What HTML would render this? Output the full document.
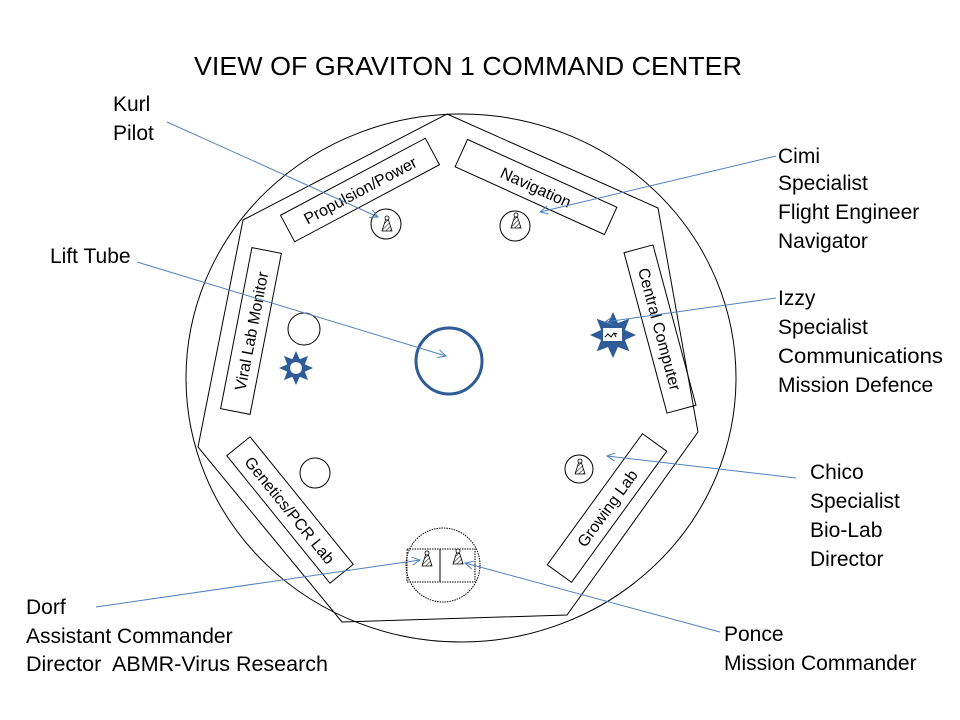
<!DOCTYPE html>
<html><head><meta charset="utf-8"><style>
html,body{margin:0;padding:0;background:#fff;}
svg{display:block;}
text{font-family:"Liberation Sans",sans-serif;fill:#000;}
</style></head><body>
<svg width="960" height="720" viewBox="0 0 960 720" xmlns="http://www.w3.org/2000/svg">
<defs>
<marker id="ar" markerWidth="10" markerHeight="10" refX="9" refY="5" orient="auto" markerUnits="userSpaceOnUse">
<path d="M1,1 L9,5 L1,9" fill="none" stroke="#4f81bd" stroke-width="1"/>
</marker>
<pattern id="h" width="3" height="3" patternUnits="userSpaceOnUse" patternTransform="rotate(45)">
<line x1="0" y1="0" x2="0" y2="3" stroke="#000" stroke-width="1"/>
</pattern>
<polygon id="star" points="1,0 0.52,0.215 0.707,0.707 0.215,0.52 0,1 -0.215,0.52 -0.707,0.707 -0.52,0.215 -1,0 -0.52,-0.215 -0.707,-0.707 -0.215,-0.52 0,-1 0.215,-0.52 0.707,-0.707 0.52,-0.215"/>
<g id="p">
<polygon points="-5,6 5,6 1.5,-5 -1.5,-5" fill="url(#h)" stroke="#000" stroke-width="0.8"/>
<circle cx="0" cy="-7" r="2" fill="#fff" stroke="#000" stroke-width="0.8"/>
</g>
</defs>

<text x="468" y="75" font-size="26" text-anchor="middle" textLength="548" lengthAdjust="spacingAndGlyphs">VIEW OF GRAVITON 1 COMMAND CENTER</text>

<ellipse cx="461" cy="378" rx="275" ry="264" fill="none" stroke="#000" stroke-width="1"/>
<polygon points="447,114 658,208 698,432 567,615 342,622 198,447 243,220" fill="none" stroke="#000" stroke-width="1"/>

<g font-size="16">
<g transform="translate(360,190) rotate(-28)"><rect x="-82" y="-15" width="164" height="30" fill="none" stroke="#000"/><text y="6" text-anchor="middle">Propulsion/Power</text></g>
<g transform="translate(536,187) rotate(24.4)"><rect x="-82" y="-15" width="164" height="30" fill="none" stroke="#000"/><text y="6" text-anchor="middle">Navigation</text></g>
<g transform="translate(660,329) rotate(75)"><rect x="-83" y="-15" width="166" height="30" fill="none" stroke="#000"/><text y="6" text-anchor="middle">Central Computer</text></g>
<g transform="translate(251,331) rotate(-79)"><rect x="-82" y="-15" width="164" height="30" fill="none" stroke="#000"/><text y="6" text-anchor="middle">Viral Lab Monitor</text></g>
<g transform="translate(290,510) rotate(51)"><rect x="-82" y="-15" width="164" height="30" fill="none" stroke="#000"/><text y="6" text-anchor="middle">Genetics/PCR Lab</text></g>
<g transform="translate(607,508) rotate(-54)"><rect x="-81" y="-15" width="162" height="30" fill="none" stroke="#000"/><text y="6" text-anchor="middle">Growing Lab</text></g>
</g>

<circle cx="386" cy="224" r="15" fill="none" stroke="#000"/>
<use href="#p" x="387" y="225"/>
<circle cx="515" cy="226" r="15" fill="none" stroke="#000"/>
<use href="#p" x="516" y="222"/>
<circle cx="304" cy="329" r="16" fill="none" stroke="#000"/>
<circle cx="315" cy="473" r="15" fill="none" stroke="#000"/>
<circle cx="579" cy="469" r="14" fill="none" stroke="#000"/>
<use href="#p" x="580" y="468"/>

<g transform="translate(296,368) scale(17)"><use href="#star" fill="#2f5b97"/></g>
<circle cx="296" cy="368" r="6" fill="#fff"/>
<g transform="translate(613,335) scale(23)"><use href="#star" fill="#2f5b97"/></g>
<rect x="603" y="328" width="19" height="13" fill="#fff"/>
<path d="M605,337 l3,-3 3,3 3,-4 3,1 M614,333 l2,4" fill="none" stroke="#000" stroke-width="1"/>

<circle cx="449" cy="361" r="33" fill="none" stroke="#2f5b97" stroke-width="3"/>

<circle cx="443" cy="565" r="37" fill="none" stroke="#000" stroke-dasharray="1.5,1"/>
<rect x="407" y="549" width="68" height="33" fill="none" stroke="#000" stroke-dasharray="1.5,1"/>
<line x1="440" y1="549" x2="440" y2="582" stroke="#000"/>
<use href="#p" x="427" y="560"/>
<use href="#p" x="458" y="558"/>

<g stroke="#4f81bd" stroke-width="1" fill="none" marker-end="url(#ar)">
<line x1="167" y1="122" x2="378" y2="217"/>
<line x1="776" y1="156" x2="540" y2="212"/>
<line x1="137" y1="262" x2="446" y2="356"/>
<line x1="776" y1="298" x2="605" y2="322"/>
<line x1="796" y1="478" x2="607" y2="456"/>
<line x1="96" y1="607" x2="420" y2="560"/>
<line x1="720" y1="632" x2="465" y2="563"/>
</g>

<g font-size="21">
<text x="113" y="111">Kurl</text>
<text x="113" y="140">Pilot</text>
<text x="778" y="163">Cimi</text>
<text x="778" y="190">Specialist</text>
<text x="778" y="219">Flight Engineer</text>
<text x="778" y="248">Navigator</text>
<text x="50" y="263">Lift Tube</text>
<text x="778" y="305">Izzy</text>
<text x="778" y="334">Specialist</text>
<text x="778" y="363" textLength="165" lengthAdjust="spacingAndGlyphs">Communications</text>
<text x="778" y="392">Mission Defence</text>
<text x="810" y="479">Chico</text>
<text x="810" y="508">Specialist</text>
<text x="810" y="537">Bio-Lab</text>
<text x="810" y="566">Director</text>
<text x="26" y="614">Dorf</text>
<text x="26" y="643">Assistant Commander</text>
<text x="26" y="671" xml:space="preserve" textLength="302" lengthAdjust="spacingAndGlyphs">Director  ABMR-Virus Research</text>
<text x="724" y="641">Ponce</text>
<text x="724" y="670">Mission Commander</text>
</g>
</svg>
</body></html>
